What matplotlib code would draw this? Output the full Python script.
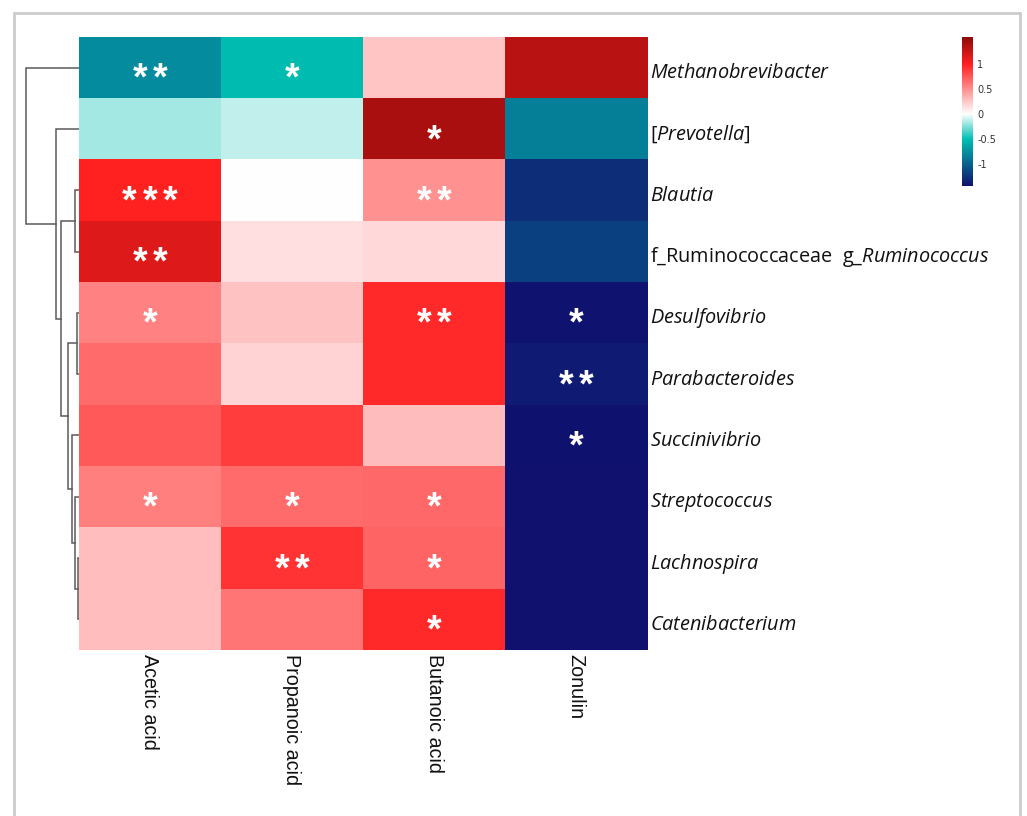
import matplotlib.pyplot as plt
import numpy as np
from matplotlib.colors import LinearSegmentedColormap, Normalize
from matplotlib.cm import ScalarMappable
from matplotlib.patches import Rectangle

plt.rcParams['mathtext.fontset'] = 'custom'
plt.rcParams['mathtext.rm'] = 'Open Sans'
plt.rcParams['mathtext.it'] = 'Open Sans:italic'

# taxa in clustered row order
taxa = [r'$\mathit{Methanobrevibacter}$',
        r'[$\mathit{Prevotella}$]',
        r'$\mathit{Blautia}$',
        r'f_Ruminococcaceae  g_$\mathit{Ruminococcus}$',
        r'$\mathit{Desulfovibrio}$',
        r'$\mathit{Parabacteroides}$',
        r'$\mathit{Succinivibrio}$',
        r'$\mathit{Streptococcus}$',
        r'$\mathit{Lachnospira}$',
        r'$\mathit{Catenibacterium}$']
metabolites = ['Acetic acid', 'Propanoic acid', 'Butanoic acid', 'Zonulin']

# correlation values, one list per metabolite (rows follow taxa)
acetic    = [-0.78, -0.18, 0.99, 1.15, 0.56, 0.66, 0.74, 0.57, 0.29, 0.29]
propanoic = [-0.52, -0.12, 0.00, 0.14, 0.27, 0.19, 0.86, 0.66, 0.91, 0.62]
butanoic  = [0.26, 1.39, 0.49, 0.17, 0.95, 0.95, 0.30, 0.67, 0.69, 0.95]
zonulin   = [1.33, -0.85, -1.28, -1.18, -1.42, -1.38, -1.43, -1.44, -1.44, -1.44]

# significance marks
sig_acetic    = ['**', '', '***', '**', '*', '', '', '*', '', '']
sig_propanoic = ['*', '', '', '', '', '', '', '*', '**', '']
sig_butanoic  = ['', '*', '**', '', '**', '', '', '*', '*', '*']
sig_zonulin   = ['', '', '', '', '*', '**', '*', '', '', '']

# row dendrogram: (left node, right node, height); leaves 0-9, new nodes from 10
row_merges = [(8, 9, 1.2), (7, 10, 4), (6, 11, 7), (4, 5, 2), (13, 12, 11),
              (2, 3, 4), (15, 14, 18), (1, 16, 23), (0, 17, 53)]

vmin, vmax = -1.44, 1.54

values = np.column_stack([acetic, propanoic, butanoic, zonulin])
stars = np.column_stack([sig_acetic, sig_propanoic, sig_butanoic, sig_zonulin])

def pos(v):
    return (v - vmin) / (vmax - vmin)

cmap = LinearSegmentedColormap.from_list('corr', [
    (0.0, '#10106e'),
    (pos(-0.5), '#00c0b2'),
    (pos(0.0), '#ffffff'),
    (pos(1.0), '#ff1f1f'),
    (1.0, '#8b0a0a'),
], N=512)
norm = Normalize(vmin=vmin, vmax=vmax)

W, H = 1027, 816
fig = plt.figure(figsize=(W / 100, H / 100), dpi=100)

def px_axes(x0, y0, x1, y1):
    return fig.add_axes([x0 / W, 1 - y1 / H, (x1 - x0) / W, (y1 - y0) / H])

nrow, ncol = values.shape
ax = px_axes(79, 37, 647, 650)
ax.imshow(values, cmap=cmap, norm=norm, aspect='auto', interpolation='nearest')
ax.set_xlim(-0.5, ncol - 0.5)
ax.set_ylim(nrow - 0.5, -0.5)
ax.axis('off')

# significance asterisks, one glyph each with fixed spacing
for i in range(nrow):
    for j in range(ncol):
        s = stars[i, j]
        n = len(s)
        for k in range(n):
            dx = (k - (n - 1) / 2) * 0.145
            ax.text(j + dx, i + 0.36, '*', color='white', fontsize=27,
                    fontweight='bold', ha='center', va='baseline',
                    family='Liberation Sans')

# row labels
for i, lab in enumerate(taxa):
    ax.text(ncol - 0.5 + 0.02, i + 0.09, lab, fontsize=14.3, family='Open Sans',
            ha='left', va='center', color='#111111', clip_on=False)

# column labels
for j, lab in enumerate(metabolites):
    ax.text(j, nrow - 0.5 + 0.07, lab, fontsize=14.2, family='Liberation Sans',
            rotation=270, ha='center', va='top', color='#111111', clip_on=False)

# row dendrogram
dax = px_axes(20, 37, 79, 650)
dax.set_xlim(59, 0)
dax.set_ylim(nrow - 0.5, -0.5)
dax.axis('off')
nodes = {i: (float(i), 0.0) for i in range(nrow)}
for idx, (a, b, h) in enumerate(row_merges):
    ya, ha = nodes[a]
    yb, hb = nodes[b]
    dax.plot([ha, h, h, hb], [ya, ya, yb, yb], color='#5a5a5a', lw=1.1,
             solid_joinstyle='miter')
    nodes[nrow + idx] = ((ya + yb) / 2, h)

# colour key
cax = px_axes(962, 37, 973, 186)
sm = ScalarMappable(norm=norm, cmap=cmap)
cb = fig.colorbar(sm, cax=cax, ticks=[-1, -0.5, 0, 0.5, 1])
cb.set_ticklabels(['-1', '-0.5', '0', '0.5', '1'])
cb.outline.set_visible(False)
cax.tick_params(length=0, labelsize=7, colors='#333333', pad=3)

# outer frame
fig.patches.append(Rectangle((14 / W, -0.05), (1020 - 14) / W, 1.05 - 13 / H,
                             transform=fig.transFigure, fill=False,
                             edgecolor='#cccccc', lw=2))

fig.savefig('out.png', dpi=100)
